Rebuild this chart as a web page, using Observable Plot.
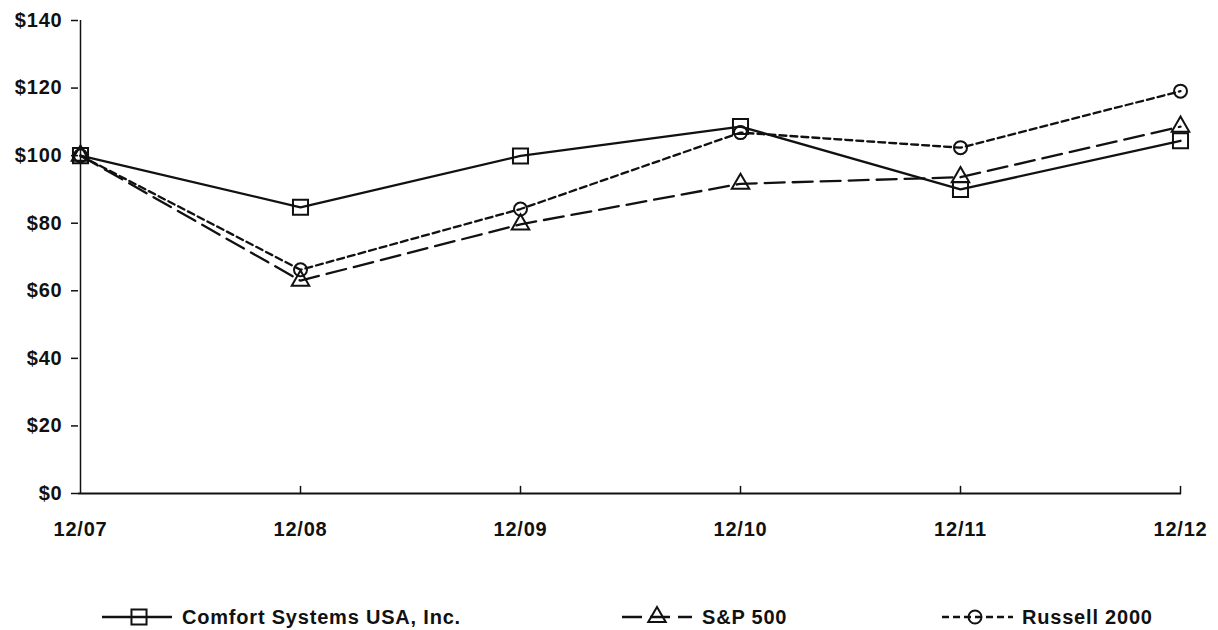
<!DOCTYPE html>
<html><head><meta charset="utf-8">
<script src="https://cdn.jsdelivr.net/npm/d3@7"></script>
<script src="https://cdn.jsdelivr.net/npm/@observablehq/plot@0.6"></script>
<style>
body{margin:0;background:#fff;font-family:"Liberation Sans",Arial,sans-serif;}
#chart svg,#legend svg{display:block}
</style></head><body><div id="chart"></div><div id="legend"></div>
<script>
const periods = ["12/07","12/08","12/09","12/10","12/11","12/12"];
const seriesNames = ["Comfort Systems USA, Inc.","S&P 500","Russell 2000"];
const comfortValues = [100, 84.7, 99.9, 108.6, 90.0, 104.4];
const sp500Values = [100, 63.0, 79.67, 91.67, 93.61, 108.59];
const russellValues = [100, 66.21, 84.20, 106.82, 102.36, 119.09];
const yTicks = [0, 20, 40, 60, 80, 100, 120, 140];

const seriesValues = [comfortValues, sp500Values, russellValues];
const styles = [
  {dash: null, symbol: "square", r: 8.5},
  {dash: "20,8", symbol: "triangle", r: 6.5},
  {dash: "7,4", symbol: "circle", r: 6.5}
];
const rows = seriesNames.flatMap((s, i) => periods.map((p, j) => ({series: s, idx: i, period: p, value: seriesValues[i][j]})));

const font = {fontFamily: '"Liberation Sans", Arial, sans-serif', fontSize: "20px", fontWeight: "bold", letterSpacing: "0.8px", color: "#111", background: "#fff"};

const tickShape = {draw(context, l) { context.moveTo(0, 0); context.lineTo(0, -l); }};

const marks = [
  Plot.ruleX([periods[0]], {y1: 0, y2: yTicks[yTicks.length - 1], stroke: "#111", strokeWidth: 1.5}),
  Plot.ruleY([0], {stroke: "#111", strokeWidth: 2}),
  Plot.vector(periods.slice(1), {x: d => d, y: 0, length: 7, anchor: "start", rotate: 0, shape: tickShape, stroke: "#111", strokeWidth: 1.5}),
  Plot.axisY({ticks: yTicks, tickFormat: d => "$" + d, tickSize: 7, tickPadding: 9, label: null, strokeWidth: 1.5}),
  Plot.axisX({tickSize: 0, tickPadding: 28, label: null})
];
[2, 1, 0].forEach(i => {
  const data = rows.filter(r => r.idx === i);
  marks.push(Plot.line(data, {x: "period", y: "value", stroke: "#111", strokeWidth: 2.3, strokeDasharray: styles[i].dash}));
});
[2, 1, 0].forEach(i => {
  const data = rows.filter(r => r.idx === i);
  marks.push(Plot.dot(data, {x: "period", y: "value", symbol: styles[i].symbol, r: styles[i].r, stroke: "#111", strokeWidth: 2, fill: "none"}));
});

const chart = Plot.plot({
  width: 1218, height: 540,
  marginTop: 20, marginLeft: 78, marginRight: 37, marginBottom: 47,
  style: font,
  x: {type: "point", domain: periods, padding: 0},
  y: {domain: [0, 140]},
  marks
});
document.getElementById("chart").appendChild(chart);

// legend
const lg = d3.select("#legend").append("svg").attr("width", 1218).attr("height", 90);
const ly = 77;
const legendItems = [
  {x1: 102, x2: 172, sx: 139, tx: 182},
  {x1: 622, x2: 692, sx: 657, tx: 702},
  {x1: 942, x2: 1013, sx: 975, tx: 1022}
];
legendItems.forEach((it, i) => {
  lg.append("line").attr("x1", it.x1).attr("x2", it.x2).attr("y1", ly).attr("y2", ly)
    .attr("stroke", "#111").attr("stroke-width", 2.3).attr("stroke-dasharray", styles[i].dash);
  const sym = {square: d3.symbolSquare, triangle: d3.symbolTriangle, circle: d3.symbolCircle}[styles[i].symbol];
  lg.append("path").attr("d", d3.symbol(sym, Math.PI * styles[i].r * styles[i].r)())
    .attr("transform", `translate(${it.sx},${ly})`).attr("fill", "none").attr("stroke", "#111").attr("stroke-width", 2);
  lg.append("text").attr("x", it.tx).attr("y", ly).attr("dy", "0.35em")
    .style("font-family", font.fontFamily).style("font-size", "20px").style("font-weight", "bold").style("letter-spacing", "0.8px")
    .attr("fill", "#111").text(seriesNames[i]);
});
</script></body></html>
